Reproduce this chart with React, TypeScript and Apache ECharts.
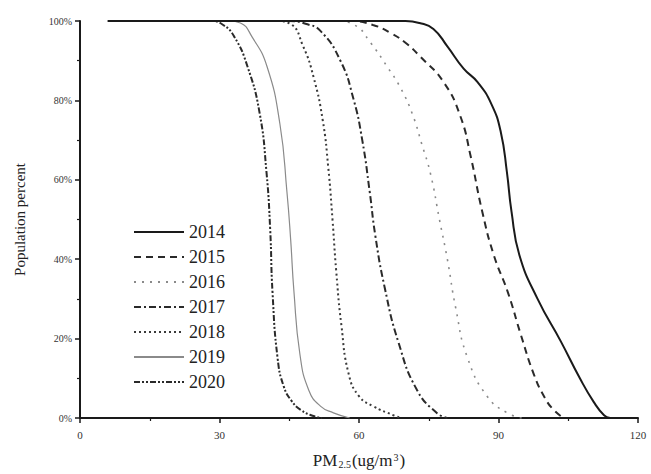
import React, { useEffect, useRef } from "react";
import * as echarts from "echarts";

const years = ["2014", "2015", "2016", "2017", "2018", "2019", "2020"];

const s2014 = [[6,100],[70,100],[73,99.5],[76,98],[79,93.6],[82.5,88],[85.5,84.6],[88.5,79],[90.5,72],[91.8,62],[92.8,52],[94.5,41],[98.4,30],[103.4,19.3],[107.5,10],[110.5,4],[112.7,0.7],[114,0]];
const s2015 = [[6,100],[58,100],[63,99],[66.8,97],[70,94.5],[73.2,91],[78.2,84.6],[81.8,76],[84,66],[86.5,52],[89,41],[92,31.7],[94.8,21],[97.6,11],[100,5],[101.9,2],[104,0]];
const s2016 = [[6,100],[55,100],[59,99],[62.5,94.5],[66,88.6],[69,83],[71.5,76.5],[73.5,69],[75.4,61.4],[77.3,50],[79,40],[80.8,27.7],[83.3,15.3],[87.6,5.4],[92,1.2],[95,0]];
const s2017 = [[6,100],[45,100],[48.5,99.3],[51.7,97.5],[56,90],[58.8,80.4],[60.7,70],[62.3,57],[63.5,46],[65.5,33],[68.5,19],[72.5,7],[76.8,1.2],[79,0]];
const s2018 = [[6,100],[42,100],[45.2,99.3],[48,93.6],[50.2,86],[52.2,75],[53.4,63],[54.3,50],[55.1,37],[56.2,23.5],[57.8,11],[60,5.5],[63,3],[67.4,0.7],[69,0]];
const s2019 = [[6,100],[32,100],[34.5,99.5],[37,96],[40.2,88.6],[43,74],[44.5,57],[45.3,45],[46,32],[47.3,16],[49.2,7],[51.7,3],[54.5,1.3],[58,0]];
const s2020 = [[6,100],[28,100],[30.8,99],[33.2,96],[36,88.6],[38.6,77],[40.1,62],[40.9,47.5],[41.4,31.7],[42.5,15],[43.8,8],[45.5,4.3],[47.5,2],[50.2,0.5],[52,0]];

const seriesData = [s2014, s2015, s2016, s2017, s2018, s2019, s2020];

const xTicks = [0, 30, 60, 90, 120];
const yTicks = [0, 20, 40, 60, 80, 100];

const lineStyles: any[] = [
  { color: "#1a1a1a", width: 2, type: "solid" },
  { color: "#2a2a2a", width: 2, type: [7, 5] },
  { color: "#8a8a8a", width: 1.6, type: [2, 6] },
  { color: "#2a2a2a", width: 2, type: [7, 3, 2, 3] },
  { color: "#3a3a3a", width: 2, type: [2, 3] },
  { color: "#8a8a8a", width: 1.2, type: "solid" },
  { color: "#2a2a2a", width: 2, type: [6, 2, 2, 2, 2, 2] },
];

const FONT = "'Liberation Serif', 'DejaVu Serif', serif";

export default function App() {
  const ref = useRef<HTMLDivElement>(null);
  useEffect(() => {
    if (!ref.current) return;
    const chart = echarts.init(ref.current, undefined, { renderer: "svg" });
    const axisCommon = {
      axisLine: { show: true, lineStyle: { color: "#1a1a1a", width: 2 } },
      axisTick: { show: true, inside: false, length: 5, lineStyle: { color: "#1a1a1a", width: 1.5 } },
      minorTick: { show: true, splitNumber: 2, length: 3, lineStyle: { color: "#1a1a1a", width: 1.2 } },
      splitLine: { show: false },
      minorSplitLine: { show: false },
    };
    chart.setOption({
      animation: false,
      backgroundColor: "#ffffff",
      textStyle: { fontFamily: FONT },
      grid: { left: 80, right: 13, top: 21, bottom: 49, containLabel: false },
      legend: {
        data: years,
        orient: "vertical",
        left: 128,
        top: 218,
        itemWidth: 50,
        itemHeight: 14,
        itemGap: 7,
        itemStyle: { color: "rgba(0,0,0,0)", borderWidth: 0, opacity: 0 },
        textStyle: { fontFamily: FONT, fontSize: 18, color: "#222" },
        selectedMode: false,
      },
      xAxis: {
        type: "value",
        min: xTicks[0],
        max: xTicks[xTicks.length - 1],
        interval: 30,
        ...axisCommon,
        axisLabel: { fontFamily: FONT, fontSize: 11, color: "#333", margin: 11 },
        name: "PM{sub|2.5}(ug/m{sup|3})",
        nameLocation: "middle",
        nameGap: 34,
        nameTextStyle: {
          fontFamily: FONT,
          fontSize: 17,
          color: "#222",
          rich: {
            sub: { fontSize: 10, verticalAlign: "bottom", padding: [7, 1, 0, 1], fontFamily: FONT, color: "#222" },
            sup: { fontSize: 10, verticalAlign: "top", padding: [0, 1, 7, 1], fontFamily: FONT, color: "#222" },
          },
        },
      },
      yAxis: {
        type: "value",
        min: yTicks[0],
        max: yTicks[yTicks.length - 1],
        interval: 20,
        ...axisCommon,
        axisLabel: { fontFamily: FONT, fontSize: 10, color: "#333", margin: 8, formatter: "{value}%" },
        name: "Population percent",
        nameLocation: "middle",
        nameGap: 53,
        nameTextStyle: { fontFamily: FONT, fontSize: 15, color: "#222" },
      },
      series: seriesData.map((d, i) => ({
        name: years[i],
        type: "line",
        data: d,
        symbol: "none",
        smooth: 0.5,
        lineStyle: lineStyles[i],
        itemStyle: { color: lineStyles[i].color },
        z: 10 - i,
      })),
    });
    return () => chart.dispose();
  }, []);
  return <div ref={ref} style={{ width: 651, height: 474, position: "absolute", left: 0, top: 0 }} />;
}
